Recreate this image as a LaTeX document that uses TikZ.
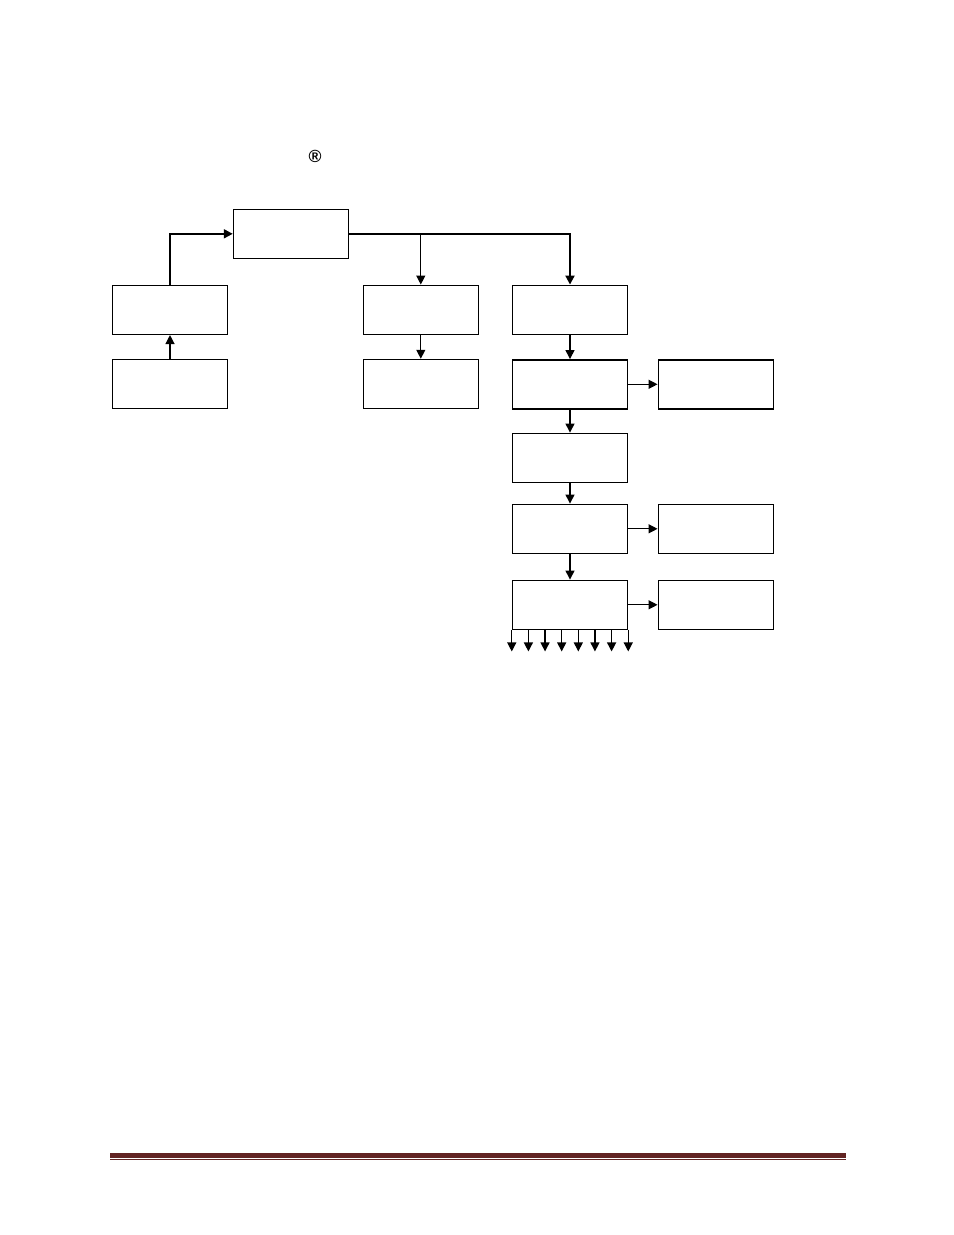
\documentclass[tikz,border=0pt]{standalone}
\usepackage{fontspec}
\usepackage{tikz}
\usetikzlibrary{calc,arrows.meta}
\newfontfamily\regfont{Liberation Sans}
\definecolor{footred}{HTML}{622423}

\tikzset{
	box/.style={draw, line width=0.3mm, minimum width=2.3cm, minimum height=0.98cm, inner sep=0pt},
	link/.style={line width=0.25mm, -{Triangle[length=0.18cm,width=0.18cm]}},
	mainlink/.style={line width=0.4mm, -{Triangle[length=0.18cm,width=0.18cm]}},
}

\begin{document}
\begin{tikzpicture}[x=0.02cm, y=-0.02cm]
		%%%%% START %%%%%
		\useasboundingbox (0, 0) rectangle (954, 1235);
		
		\node (reg) at (315, 156) {\regfont\bfseries\fontsize{10}{10}\selectfont ®};
		
		\node[box] (top) at (291, 233.8) {};
		
		\node[box] (a1) at (170, 309.8) {};
		\node[box] (a2) at (170, 384) {};
		
		\node[box] (b1) at (420.8, 309.8) {};
		\node[box] (b2) at (420.8, 384) {};
		
		\node[box] (c1) at (570, 309.8) {};
		\node[box] (c2) at (570, 384.3) {};
		\node[box] (c3) at (570, 457.8) {};
		\node[box] (c4) at (570, 528.8) {};
		\node[box] (c5) at (570, 604.8) {};
		
		\node[box] (d2) at (715.8, 384.3) {};
		\node[box] (d4) at (715.8, 528.8) {};
		\node[box] (d5) at (715.8, 604.8) {};
		
		\draw[mainlink] (a1.north) |- (top.west);
		\draw[link] (a2.north) -- (a1.south);
		
		\draw[mainlink] (top.east) -| (c1.north);
		\draw[link] (top.east -| b1.north) -- (b1.north);
		\draw[link] (b1.south) -- (b2.north);
		
		\draw[link] (c1.south) -- (c2.north);
		\draw[link] (c2.south) -- (c3.north);
		\draw[link] (c3.south) -- (c4.north);
		\draw[link] (c4.south) -- (c5.north);
		
		\draw[link] (c2.east) -- (d2.west);
		\draw[link] (c4.east) -- (d4.west);
		\draw[link] (c5.east) -- (d5.west);
		
		\foreach \i in {0,...,7}
			\draw[link] ($(c5.south west)!\i/7!(c5.south east)$) -- ++(0, 21.4);
		
		\fill[footred] (110, 1153.3) rectangle (846, 1157.7);
		\fill[footred] (110, 1159) rectangle (846, 1160);
		
		%%%%% END %%%%%
	\end{tikzpicture}
\end{document}
